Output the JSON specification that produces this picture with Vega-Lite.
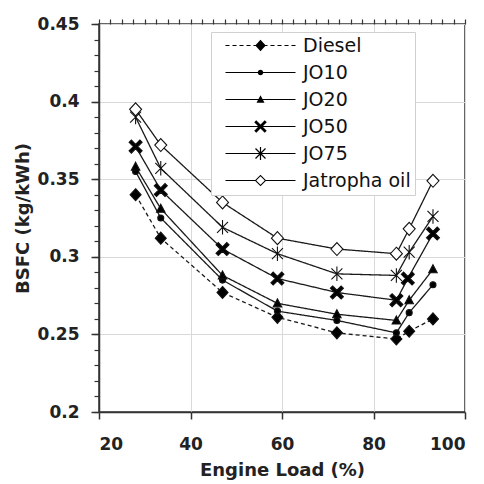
{
  "$schema": "https://vega.github.io/schema/vega-lite/v6.json",
  "width": 366,
  "height": 388,
  "autosize": "none",
  "padding": {"left": 99, "top": 24, "right": 19, "bottom": 72},
  "background": "white",
  "config": {
    "view": {"stroke": "#333333", "strokeWidth": 1.5},
    "axis": {
      "labelFont": "DejaVu Sans", "titleFont": "DejaVu Sans",
      "labelColor": "#222222", "titleColor": "#222222",
      "domainColor": "#333333", "tickColor": "#333333"
    }
  },
  "data": {"values": [
    {"series": "Diesel", "load": 28, "bsfc": 0.340},
    {"series": "Diesel", "load": 33.5, "bsfc": 0.312},
    {"series": "Diesel", "load": 47, "bsfc": 0.277},
    {"series": "Diesel", "load": 59, "bsfc": 0.261},
    {"series": "Diesel", "load": 72, "bsfc": 0.251},
    {"series": "Diesel", "load": 85, "bsfc": 0.247},
    {"series": "Diesel", "load": 87.8, "bsfc": 0.252},
    {"series": "Diesel", "load": 93, "bsfc": 0.260},
    {"series": "JO10", "load": 28, "bsfc": 0.355},
    {"series": "JO10", "load": 33.5, "bsfc": 0.325},
    {"series": "JO10", "load": 47, "bsfc": 0.285},
    {"series": "JO10", "load": 59, "bsfc": 0.265},
    {"series": "JO10", "load": 72, "bsfc": 0.259},
    {"series": "JO10", "load": 85, "bsfc": 0.251},
    {"series": "JO10", "load": 87.8, "bsfc": 0.264},
    {"series": "JO10", "load": 93, "bsfc": 0.282},
    {"series": "JO20", "load": 28, "bsfc": 0.358},
    {"series": "JO20", "load": 33.5, "bsfc": 0.331},
    {"series": "JO20", "load": 47, "bsfc": 0.288},
    {"series": "JO20", "load": 59, "bsfc": 0.270},
    {"series": "JO20", "load": 72, "bsfc": 0.263},
    {"series": "JO20", "load": 85, "bsfc": 0.259},
    {"series": "JO20", "load": 87.8, "bsfc": 0.272},
    {"series": "JO20", "load": 93, "bsfc": 0.292},
    {"series": "JO50", "load": 28, "bsfc": 0.371},
    {"series": "JO50", "load": 33.5, "bsfc": 0.343},
    {"series": "JO50", "load": 47, "bsfc": 0.305},
    {"series": "JO50", "load": 59, "bsfc": 0.286},
    {"series": "JO50", "load": 72, "bsfc": 0.277},
    {"series": "JO50", "load": 85, "bsfc": 0.272},
    {"series": "JO50", "load": 87.5, "bsfc": 0.286},
    {"series": "JO50", "load": 93, "bsfc": 0.315},
    {"series": "JO75", "load": 28, "bsfc": 0.390},
    {"series": "JO75", "load": 33.5, "bsfc": 0.357},
    {"series": "JO75", "load": 47, "bsfc": 0.319},
    {"series": "JO75", "load": 59, "bsfc": 0.302},
    {"series": "JO75", "load": 72, "bsfc": 0.289},
    {"series": "JO75", "load": 85, "bsfc": 0.288},
    {"series": "JO75", "load": 87.8, "bsfc": 0.303},
    {"series": "JO75", "load": 93, "bsfc": 0.326},
    {"series": "Jatropha oil", "load": 28, "bsfc": 0.395},
    {"series": "Jatropha oil", "load": 33.5, "bsfc": 0.372},
    {"series": "Jatropha oil", "load": 47, "bsfc": 0.335},
    {"series": "Jatropha oil", "load": 59, "bsfc": 0.312},
    {"series": "Jatropha oil", "load": 72, "bsfc": 0.305},
    {"series": "Jatropha oil", "load": 85, "bsfc": 0.302},
    {"series": "Jatropha oil", "load": 87.8, "bsfc": 0.318},
    {"series": "Jatropha oil", "load": 93, "bsfc": 0.349}
  ]},
  "layer": [
    {
      "mark": {"type": "line", "color": "#1a1a1a", "strokeWidth": 1.3},
      "encoding": {
        "x": {"field": "load", "type": "quantitative",
          "scale": {"domain": [20, 100], "nice": false, "zero": false},
          "axis": {"values": [20, 40, 60, 80, 100], "title": "Engine Load (%)",
            "grid": true, "gridColor": "#d9d9d9", "gridWidth": 1,
            "tickSize": 7, "tickWidth": 1.5, "domainWidth": 1.5,
            "labelFontSize": 17, "labelFontWeight": "bold", "labelPadding": 17,
            "titleFontSize": 18, "titleFontWeight": "bold", "titlePadding": 9}},
        "y": {"field": "bsfc", "type": "quantitative",
          "scale": {"domain": [0.2, 0.45], "nice": false, "zero": false},
          "axis": {"values": [0.2, 0.25, 0.3, 0.35, 0.4, 0.45], "format": ".2~f", "title": "BSFC (kg/kWh)",
            "grid": true, "gridColor": "#d9d9d9", "gridWidth": 1,
            "tickSize": 8, "tickWidth": 1.5, "domainWidth": 1.5,
            "labelFontSize": 17, "labelFontWeight": "bold", "labelPadding": 12,
            "titleFontSize": 18, "titleFontWeight": "bold", "titlePadding": 5}},
        "detail": {"field": "series"},
        "strokeDash": {"field": "series", "type": "nominal",
          "scale": {"domain": ["Diesel", "JO10", "JO20", "JO50", "JO75", "Jatropha oil"],
            "range": [[4, 3], [1, 0], [1, 0], [1, 0], [1, 0], [1, 0]]},
          "legend": null}
      }
    },
    {
      "mark": {"type": "point", "filled": true, "size": 100, "stroke": "#111111", "strokeWidth": 1.1, "opacity": 1},
      "encoding": {
        "x": {"field": "load", "type": "quantitative",
          "axis": {"values": [20, 22.5, 25, 27.5, 30, 32.5, 35, 37.5, 40, 42.5, 45, 47.5, 50, 52.5, 55, 57.5, 60, 62.5, 65, 67.5, 70, 72.5, 75, 77.5, 80, 82.5, 85, 87.5, 90, 92.5, 95, 97.5, 100],
            "labels": false, "domain": false, "grid": false, "title": null, "tickSize": 5, "tickWidth": 1.2}},
        "y": {"field": "bsfc", "type": "quantitative",
          "axis": {"values": [0.2, 0.21, 0.22, 0.23, 0.24, 0.25, 0.26, 0.27, 0.28, 0.29, 0.3, 0.31, 0.32, 0.33, 0.34, 0.35, 0.36, 0.37, 0.38, 0.39, 0.4, 0.41, 0.42, 0.43, 0.44, 0.45],
            "labels": false, "domain": false, "grid": false, "title": null, "tickSize": 5, "tickWidth": 1.2, "orient": "left"}},
        "shape": {"field": "series", "type": "nominal",
          "scale": {"domain": ["Diesel", "JO10", "JO20", "JO50", "JO75", "Jatropha oil"],
            "range": [
              "M0,-1.2L1.1,0L0,1.2L-1.1,0Z",
              "M-0.6,0A0.6,0.6,0,1,0,0.6,0A0.6,0.6,0,1,0,-0.6,0Z",
              "M0,-0.9L0.85,0.7L-0.85,0.7Z",
              "M-1.3,-0.85L-0.85,-1.3L0,-0.45L0.85,-1.3L1.3,-0.85L0.45,0L1.3,0.85L0.85,1.3L0,0.45L-0.85,1.3L-1.3,0.85L-0.45,0Z",
              "M-1.1,-1.1L1.1,1.1M-1.1,1.1L1.1,-1.1M0,-1.45L0,1.45",
              "M0,-1.3L1.2,0L0,1.3L-1.2,0Z"
            ]},
          "legend": null},
        "fill": {"field": "series", "type": "nominal",
          "scale": {"domain": ["Diesel", "JO10", "JO20", "JO50", "JO75", "Jatropha oil"],
            "range": ["#000000", "#000000", "#000000", "#000000", "#000000", "#ffffff"]},
          "legend": null}
      }
    },
    {
      "mark": {"type": "point", "filled": true, "size": 100, "fill": "#000000", "opacity": 0},
      "encoding": {
        "x": {"field": "load", "type": "quantitative", "axis": null},
        "y": {"field": "bsfc", "type": "quantitative", "axis": null},
        "shape": {"field": "series", "type": "nominal",
          "scale": {"domain": ["Diesel", "JO10", "JO20", "JO50", "JO75", "Jatropha oil"],
            "range": [
              "M-7,-0.12H-6.2V0.12H-7ZM-5.6,-0.12H-4.8V0.12H-5.6ZM-4.2,-0.12H-3.4V0.12H-4.2ZM-2.8,-0.12H-2V0.12H-2.8ZM-1.4,-0.12H-0.9V0.12H-1.4ZM0.9,-0.12H1.4V0.12H0.9ZM2,-0.12H2.8V0.12H2ZM3.4,-0.12H4.2V0.12H3.4ZM4.8,-0.12H5.6V0.12H4.8ZM6.2,-0.12H7V0.12H6.2ZM0,-1.15L1.05,0L0,1.15L-1.05,0Z",
              "M-7,-0.12H7V0.12H-7ZM-0.55,0A0.55,0.55,0,1,1,0.55,0A0.55,0.55,0,1,1,-0.55,0Z",
              "M-7,-0.12H7V0.12H-7ZM0,-0.85L0.8,0.65L-0.8,0.65Z",
              "M-7,-0.12H7V0.12H-7ZM-1.25,-0.85L-0.85,-1.25L0,-0.4L0.85,-1.25L1.25,-0.85L0.4,0L1.25,0.85L0.85,1.25L0,0.4L-0.85,1.25L-1.25,0.85L-0.4,0Z",
              "M-7,-0.12H7V0.12H-7ZM-0.915,-1.085L1.085,0.915L0.915,1.085L-1.085,-0.915ZM-1.085,0.915L0.915,-1.085L1.085,-0.915L-0.915,1.085ZM-0.12,-1.3L0.12,-1.3L0.12,1.3L-0.12,1.3Z",
              "M-7,-0.12H-1.05V0.12H-7ZM1.05,-0.12H7V0.12H1.05ZM0,-1.15L1.15,0L0,1.15L-1.15,0ZM0,-0.85L-0.85,0L0,0.85L0.85,0Z"
            ]},
          "legend": {"orient": "none", "legendX": 112, "legendY": 8, "title": null,
            "padding": 4, "strokeColor": "#d0d0d0", "fillColor": "#ffffff",
            "labelFont": "DejaVu Sans", "labelFontSize": 19, "labelColor": "#111111",
            "symbolSize": 100, "symbolOffset": 36, "labelOffset": 33, "rowPadding": 7,
            "symbolFillColor": "#000000", "symbolStrokeColor": "#000000", "symbolStrokeWidth": 0, "symbolOpacity": 1,
            "encode": {"symbols": {"update": {
              "fill": {"value": "#000000"}, "opacity": {"value": 1},
              "fillOpacity": {"value": 1}, "strokeWidth": {"value": 0}}}}}}
      }
    }
  ],
  "resolve": {"scale": {"shape": "independent"}, "axis": {"x": "independent", "y": "independent"}}
}
